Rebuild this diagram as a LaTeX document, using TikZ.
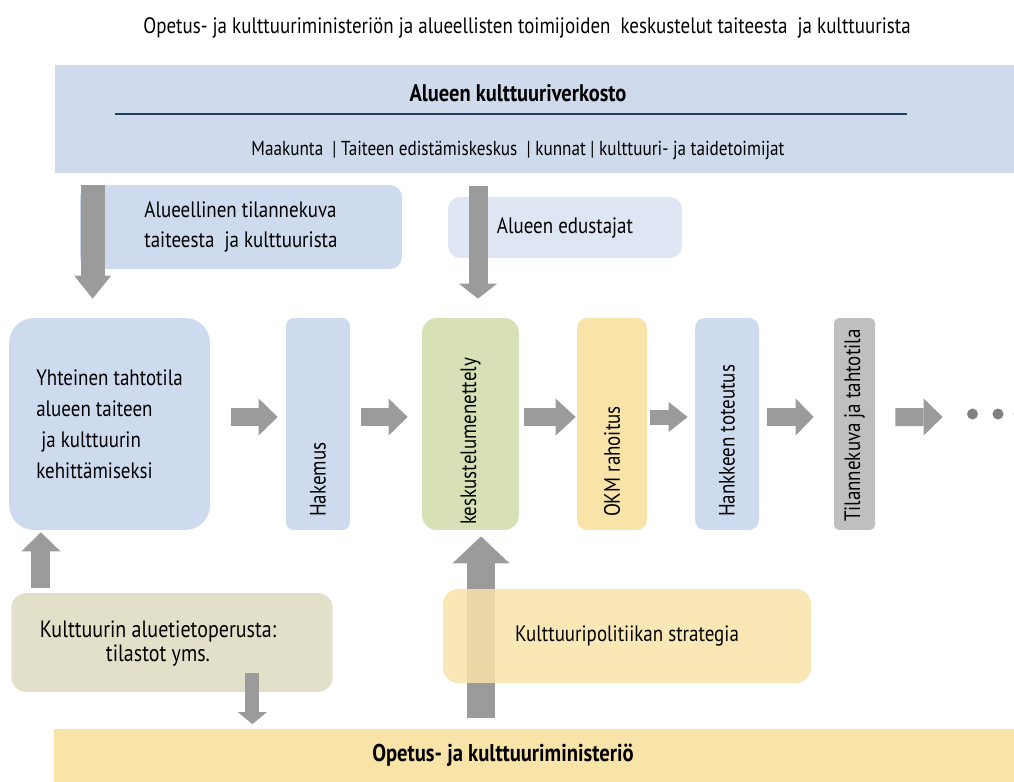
\documentclass[tikz,border=0pt]{standalone}
\usepackage{fontspec}
\setmainfont{PT Sans}[FakeStretch=0.85]
\usetikzlibrary{arrows.meta}
\definecolor{bandblue}{HTML}{CFDAED}
\definecolor{boxblue}{HTML}{CEDBEE}
\definecolor{paleblue}{HTML}{DEE6F3}
\definecolor{sage}{HTML}{D8E0B5}
\definecolor{sand}{HTML}{F8E3A8}
\definecolor{khaki}{HTML}{E2E0C9}
\definecolor{stone}{HTML}{BFBFBF}
\definecolor{arrowgray}{HTML}{9B9B9B}
\definecolor{linenavy}{HTML}{1F3D5C}
\definecolor{dotgray}{HTML}{808080}
\begin{document}
\begin{tikzpicture}[x=0.02cm, y=-0.02cm,
	tallbox/.style={inner sep=0pt, minimum height=4.24cm},
	vlabel/.style={rotate=90, anchor=west, inner sep=0pt, font=\fontsize{12.7}{14}\selectfont},
	boxtext/.style={font=\fontsize{12.7}{17}\selectfont},
	blockarrow/.style args={#1/#2/#3}{draw=arrowgray, line width=#1, -{Triangle[width=#2, length=#3, line width=0pt]}}]
	\useasboundingbox (0,0) rectangle (1014,781);
	\node[font=\fontsize{12.7}{15}\selectfont] (otsikko) at (527,28) {Opetus- ja kulttuuriministeriön ja alueellisten toimijoiden\ \ keskustelut taiteesta\ \ ja kulttuurista};
	\node[fill=bandblue, inner sep=0pt, minimum width=19.22cm, minimum height=2.16cm] (verkosto) at (535.5,119) {};
	\node[font=\bfseries\fontsize{13.7}{16}\selectfont] (verkostonimi) at (518,93) {Alueen kulttuuriverkosto};
	\draw[linenavy, line width=0.04cm] (115,114) -- (907,114);
	\node[font=\fontsize{11.5}{14}\selectfont] (toimijat) at (518,150) {Maakunta\ \ | Taiteen edistämiskeskus\ \ | kunnat | kulttuuri- ja taidetoimijat};
	\node[boxtext, fill=boxblue, rounded corners=0.24cm, minimum width=6.44cm, minimum height=1.68cm, align=left] (tilannekuva) at (241,227) {Alueellinen tilannekuva\\taiteesta\ \ ja kulttuurista};
	\node[boxtext, fill=paleblue, rounded corners=0.24cm, minimum width=4.68cm, minimum height=1.22cm] (edustajat) at (565,227.5) {Alueen edustajat};
	\node[font=\fontsize{12.7}{17.6}\selectfont, fill=boxblue, rounded corners=0.5cm, minimum width=4.02cm, minimum height=4.24cm, align=left] (yhteinen) at (109.5,424) {Yhteinen tahtotila\\alueen taiteen\\\ ja kulttuurin\\kehittämiseksi};
	\node[tallbox, fill=boxblue, rounded corners=0.16cm, minimum width=1.28cm] (hakemus) at (318,424) {};
	\node[tallbox, fill=sage, rounded corners=0.3cm, minimum width=1.94cm] (keskustelu) at (470.5,424) {};
	\node[tallbox, fill=sand, rounded corners=0.2cm, minimum width=1.4cm] (rahoitus) at (612,424) {};
	\node[tallbox, fill=boxblue, rounded corners=0.2cm, minimum width=1.28cm] (toteutus) at (727,424) {};
	\node[tallbox, fill=stone, rounded corners=0.1cm, minimum width=0.82cm] (tilanne) at (854.5,424) {};
	\node[vlabel] at ([yshift=0.26cm]hakemus.south) {Hakemus};
	\node[vlabel] at ([yshift=0.1cm]keskustelu.south) {keskustelumenettely};
	\node[vlabel] at ([yshift=0.26cm]rahoitus.south) {OKM rahoitus};
	\node[vlabel] at ([yshift=0.26cm]toteutus.south) {Hankkeen toteutus};
	\node[vlabel] at ([yshift=0.16cm]tilanne.south) {Tilannekuva ja tahtotila};
	\node[circle, fill=dotgray, inner sep=0pt, minimum size=0.22cm] (piste1) at (972.5,414) {};
	\node[circle, fill=dotgray, inner sep=0pt, minimum size=0.22cm] (piste2) at (998,414) {};
	\node[circle, fill=dotgray, inner sep=0pt, minimum size=0.22cm] (piste3) at (1019,414) {};
	\node[fill=khaki, rounded corners=0.3cm, minimum width=6.43cm, minimum height=1.98cm] (aluetieto) at (172,642.5) {};
	\node[font=\fontsize{13.4}{13.6}\selectfont, align=center] (aluetietoteksti) at (158,644) {Kulttuurin aluetietoperusta:\\tilastot yms.};
	\node[fill=sand, inner sep=0pt, minimum width=19.24cm, minimum height=1.1cm] (ministerio) at (535,756) {};
	\node[font=\bfseries\fontsize{13.8}{16}\selectfont] (ministerionimi) at (503,755) {Opetus- ja kulttuuriministeriö};
	\draw[blockarrow=0.36cm/0.74cm/0.38cm, shorten <=0.42cm, shorten >=0.16cm] ([yshift=0.14cm]yhteinen.east) -- ([yshift=0.14cm]hakemus.west);
	\draw[blockarrow=0.36cm/0.74cm/0.38cm, shorten <=0.22cm, shorten >=0.28cm] ([yshift=0.14cm]hakemus.east) -- ([yshift=0.14cm]keskustelu.west);
	\draw[blockarrow=0.36cm/0.74cm/0.4cm, shorten <=0.1cm, shorten >=0.02cm] ([yshift=0.14cm]keskustelu.east) -- ([yshift=0.14cm]rahoitus.west);
	\draw[blockarrow=0.3cm/0.6cm/0.38cm, shorten <=0.06cm, shorten >=0.14cm] ([yshift=0.14cm]rahoitus.east) -- ([yshift=0.14cm]toteutus.west);
	\draw[blockarrow=0.36cm/0.74cm/0.36cm, shorten <=0.16cm, shorten >=0.4cm] ([yshift=0.14cm]toteutus.east) -- ([yshift=0.14cm]tilanne.west);
	\draw[blockarrow=0.36cm/0.74cm/0.38cm, shorten <=0.4cm, shorten >=0.48cm] ([yshift=0.14cm]tilanne.east) -- ([yshift=-0.06cm]piste1.west);
	\coordinate (v1) at ([xshift=1.68cm]yhteinen.north west);
	\coordinate (v2) at ([xshift=0.15cm]keskustelu.north);
	\coordinate (v3) at ([xshift=0.21cm]keskustelu.south);
	\coordinate (v4) at ([xshift=0.6cm]aluetieto.north west);
	\coordinate (v5) at ([xshift=4.83cm]aluetieto.south west);
	\draw[blockarrow=0.48cm/0.74cm/0.46cm, shorten <=0.24cm, shorten >=0.38cm] (verkosto.south -| v1) -- (v1);
	\draw[blockarrow=0.38cm/0.76cm/0.3cm, shorten <=0.26cm, shorten >=0.38cm] (verkosto.south -| v2) -- (v2);
	\draw[blockarrow=0.56cm/1.14cm/0.54cm, shorten <=0.2cm, shorten >=0.12cm] (ministerio.north -| v3) -- (v3);
	\draw[blockarrow=0.38cm/0.78cm/0.38cm, shorten <=0.1cm, shorten >=0.04cm] (v4) -- (yhteinen.south -| v4);
	\draw[blockarrow=0.28cm/0.58cm/0.24cm, shorten <=-0.38cm, shorten >=0.08cm] (v5) -- (ministerio.north -| v5);
	\node[font=\fontsize{12.7}{15}\selectfont, fill=sand, fill opacity=0.85, text opacity=1, rounded corners=0.3cm, minimum width=7.36cm, minimum height=1.88cm] (strategia) at (627,636) {Kulttuuripolitiikan strategia};
\end{tikzpicture}
\end{document}
